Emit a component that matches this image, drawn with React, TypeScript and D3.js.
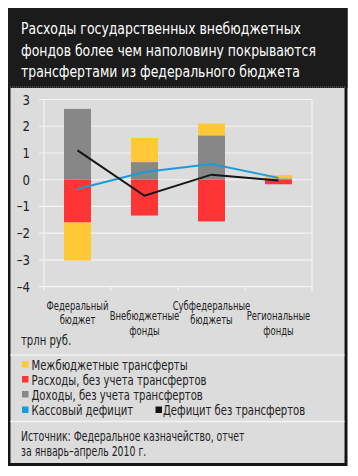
import React from "react";
import * as d3 from "d3";

const categories: string[][] = [
  ["Федеральный", "бюджет"],
  ["Внебюджетные", "фонды"],
  ["Субфедеральные", "бюджеты"],
  ["Региональные", "фонды"],
];
const incomes = [2.65, 0.66, 1.66, 0.05];
const transfers = [-1.42, 0.9, 0.44, 0.13];
const expenses = [-1.6, -1.34, -1.56, -0.17];
const cashDeficit = [-0.35, 0.29, 0.59, 0.07];
const deficitNoTransfers = [1.1, -0.6, 0.19, -0.03];
const yTicks = [3, 2, 1, 0, -1, -2, -3, -4];
const titleLines = [
  "Расходы государственных внебюджетных",
  "фондов более чем наполовину покрываются",
  "трансфертами из федерального бюджета",
];
const legendItems = [
  "Межбюджетные трансферты",
  "Расходы, без учета трансфертов",
  "Доходы, без учета трансфертов",
  "Кассовый дефицит",
  "Дефицит без трансфертов",
];
const sourceLines = [
  "Источник: Федеральное казначейство, отчет",
  "за январь–апрель 2010 г.",
];
const unitLabel = "трлн руб.";

const C = {
  yellow: "#ffc837",
  red: "#fd3535",
  gray: "#878787",
  blue: "#1a9cd8",
  black: "#141414",
  bg: "#dcdcdc",
  dark: "#1b1b1b",
  grid: "#f4f4f4",
};
const FONT = "'DejaVu Sans Condensed', 'Liberation Sans', sans-serif";

function CT(props: {
  x: number;
  y: number;
  size: number;
  anchor?: string;
  sx?: number;
  fill?: string;
  children: React.ReactNode;
}) {
  const sx = props.sx ?? 0.86;
  return (
    <text
      transform={`translate(${props.x},${props.y}) scale(${sx},1)`}
      fontSize={props.size}
      textAnchor={props.anchor || "start"}
      fill={props.fill || "#222"}
    >
      {props.children}
    </text>
  );
}

export default function App() {
  const xb = d3.scaleBand<number>().domain(d3.range(categories.length)).range([44, 312]);
  const y = d3.scaleLinear().domain([-4, 3]).range([286.7, 99.5]);
  const cx = (i: number) => (xb(i) as number) + xb.bandwidth() / 2;
  const bw = 27;

  const bars: { x: number; y0: number; y1: number; color: string }[] = [];
  categories.forEach((_, i) => {
    let pos = 0;
    let neg = 0;
    const push = (v: number, color: string) => {
      if (v >= 0) {
        bars.push({ x: cx(i) - bw / 2, y0: pos, y1: pos + v, color });
        pos += v;
      } else {
        bars.push({ x: cx(i) - bw / 2, y0: neg, y1: neg + v, color });
        neg += v;
      }
    };
    push(incomes[i], C.gray);
    push(expenses[i], C.red);
    push(transfers[i], C.yellow);
  });

  const line = d3
    .line<number>()
    .x((_, i) => cx(i))
    .y((d) => y(d));

  const legendY = [364.5, 379.5, 394.5, 410];

  return (
    <svg
      width={358}
      height={476}
      style={{ position: "absolute", left: 0, top: 0, background: "#fff" }}
      fontFamily={FONT}
    >
      <rect x={8} y={8} width={339.5} height={458} fill={C.black} />
      <rect x={10.5} y={88} width={334} height={375} fill={C.bg} />
      <rect x={8} y={8} width={339.5} height={80} fill={C.dark} />
      <line x1={10} x2={345} y1={87} y2={87} stroke="#777" strokeDasharray="1,1" strokeWidth={1} />
      {titleLines.map((t, i) => (
        <CT key={i} x={21} y={34 + i * 21.5} size={16.5} sx={0.84} fill="#fff">
          {t}
        </CT>
      ))}

      {/* grid */}
      {yTicks.map((t) => (
        <line key={t} x1={39} x2={312} y1={y(t)} y2={y(t)} stroke={C.grid} strokeWidth={1.2} />
      ))}
      <line x1={44} x2={44} y1={y(3)} y2={y(-4) + 4} stroke={C.grid} strokeWidth={1.2} />
      <line x1={312} x2={312} y1={y(3)} y2={y(-4) + 4} stroke={C.grid} strokeWidth={1.2} />
      {d3.range(1, categories.length).map((i) => (
        <line
          key={i}
          x1={xb(i) as number}
          x2={xb(i) as number}
          y1={y(-4)}
          y2={y(-4) + 4}
          stroke={C.grid}
          strokeWidth={1.2}
        />
      ))}
      {yTicks.map((t) => (
        <CT key={t} x={30} y={y(t) + 5} size={14.5} anchor="end" sx={0.9}>
          {t < 0 ? "–" + Math.abs(t) : String(t)}
        </CT>
      ))}

      {/* bars */}
      {bars.map((b, i) => (
        <rect
          key={i}
          x={b.x}
          width={bw}
          y={y(Math.max(b.y0, b.y1))}
          height={Math.abs(y(b.y0) - y(b.y1))}
          fill={b.color}
        />
      ))}

      <path d={line(cashDeficit) || ""} fill="none" stroke={C.blue} strokeWidth={2} />
      <path d={line(deficitNoTransfers) || ""} fill="none" stroke={C.black} strokeWidth={2} />

      {/* category labels */}
      {categories.map((lines, i) =>
        lines.map((l, j) => (
          <CT
            key={i + "-" + j}
            x={cx(i)}
            y={(i % 2 === 0 ? 309.5 : 320) + j * 14.5}
            size={12}
            anchor="middle"
            sx={0.78}
          >
            {l}
          </CT>
        ))
      )}
      <CT x={21} y={345} size={14} sx={0.8}>
        {unitLabel}
      </CT>

      <line x1={10.5} x2={344.5} y1={355} y2={355} stroke="#f2f2f2" strokeWidth={1.3} />
      <line x1={10.5} x2={344.5} y1={421.5} y2={421.5} stroke="#f2f2f2" strokeWidth={1.3} />

      {/* legend */}
      {[C.yellow, C.red, C.gray, C.blue].map((c, i) => (
        <g key={i}>
          <rect x={22} y={legendY[i] - 3.5} width={6.5} height={6.5} fill={c} />
          <CT x={31.5} y={legendY[i] + 5} size={14} sx={0.8}>
            {legendItems[i]}
          </CT>
        </g>
      ))}
      <rect x={155.5} y={legendY[3] - 3.5} width={6.5} height={6.5} fill={C.black} />
      <CT x={163} y={legendY[3] + 5} size={14} sx={0.8}>
        {legendItems[4]}
      </CT>

      {sourceLines.map((s, i) => (
        <CT key={i} x={21} y={441 + i * 15} size={13.5} sx={0.77}>
          {s}
        </CT>
      ))}
    </svg>
  );
}
